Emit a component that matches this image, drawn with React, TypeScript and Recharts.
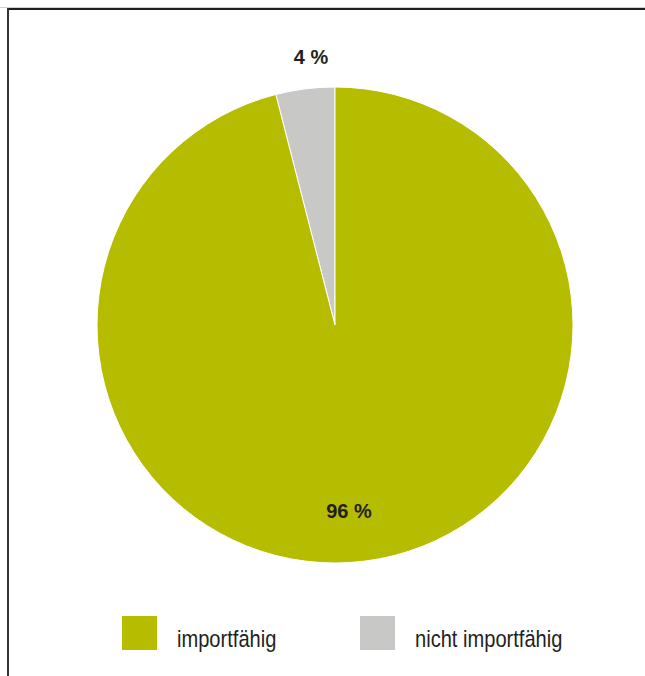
import React from "react";
import { PieChart, Pie, Cell, Legend } from "recharts";

const categories = ["nicht importfähig", "importfähig"];
const values = [4, 96];
const labels = ["4 %", "96 %"];
const colors = ["#c8c8c6", "#b6bd00"];
const legendOrder = ["importfähig", "nicht importfähig"];

const data = categories.map((name, i) => ({ name, value: values[i], label: labels[i], color: colors[i] }));

const FONT = "'Liberation Sans', Arial, sans-serif";

const renderLabel = (props: any) => {
  const { cx, cy, outerRadius, index } = props;
  const x = index === 0 ? cx - 24 : cx + 14;
  const y = index === 0 ? cy - outerRadius - 31 : cy + outerRadius * 0.78;
  return (
    <text
      x={0}
      y={0}
      transform={`translate(${x},${y}) scale(0.95,1)`}
      textAnchor="middle"
      dominantBaseline="central"
      fontFamily={FONT}
      fontWeight="bold"
      fontSize={21}
      fill="#231f20"
    >
      {data[index].label}
    </text>
  );
};

const renderLegend = () => (
  <div style={{ position: "relative", width: 645, height: 40, fontFamily: FONT }}>
    {legendOrder.map((name, i) => {
      const d = data.find((e) => e.name === name)!;
      const left = i === 0 ? 122 : 360;
      return (
        <div key={name} style={{ position: "absolute", left, top: 0, display: "flex", alignItems: "center", whiteSpace: "nowrap" }}>
          <div style={{ width: 35, height: 34, background: d.color, flex: "none" }} />
          <span
            style={{
              marginLeft: 20,
              fontSize: 24.5,
              color: "#231f20",
              lineHeight: "34px",
              display: "inline-block",
              transform: "translateY(6px) scaleX(0.82)",
              transformOrigin: "left center",
            }}
          >
            {name}
          </span>
        </div>
      );
    })}
  </div>
);

export default function App() {
  return (
    <div style={{ position: "absolute", left: 0, top: 0, width: 645, height: 676, background: "#fff" }}>
      <div style={{ position: "absolute", left: 0, top: 7, width: 645, height: 1, background: "#cfcfcf" }} />
      <div style={{ position: "absolute", left: 8, top: 8, width: 637, height: 2, background: "#1e1e1e" }} />
      <div style={{ position: "absolute", left: 7, top: 8, width: 2, height: 668, background: "#333" }} />
      <div style={{ position: "absolute", left: 0, top: 0 }}>
        <PieChart width={645} height={676} margin={{ top: 0, right: 0, bottom: 0, left: 0 }}>
          <Pie
            data={data}
            dataKey="value"
            nameKey="name"
            cx={335}
            cy={325}
            outerRadius={238}
            startAngle={90}
            endAngle={450}
            stroke="#ffffff"
            strokeWidth={1}
            label={renderLabel}
            labelLine={false}
            isAnimationActive={false}
          >
            {data.map((d) => (
              <Cell key={d.name} fill={d.color} />
            ))}
          </Pie>
          <Legend
            content={renderLegend}
            verticalAlign="bottom"
            wrapperStyle={{ position: "absolute", left: 0, top: 616, bottom: "auto", width: 645 }}
          />
        </PieChart>
      </div>
    </div>
  );
}
